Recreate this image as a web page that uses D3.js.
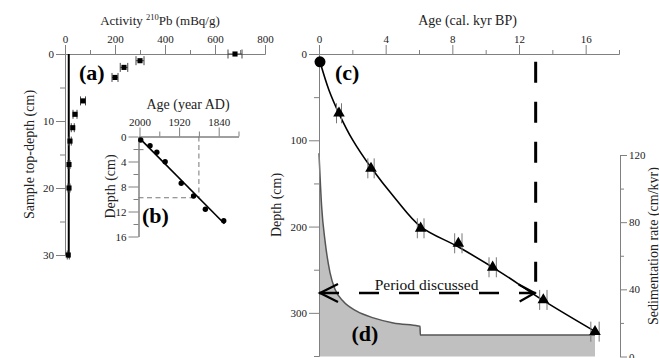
<!DOCTYPE html>
<html>
<head>
<meta charset="utf-8">
<script src="https://cdn.jsdelivr.net/npm/d3@7"></script>
<style>
    body { margin: 0; background: #fff; }
    svg { display: block; font-family: 'Liberation Serif', 'Times New Roman', serif; }
</style>
</head>
<body>
<svg id="chart" width="659" height="358"></svg>
<script>
// (a) 210Pb activity profile
const activity = [680, 300, 236, 200, 72, 40, 31, 20, 16, 16, 13]
const activityDepth = [0, 1, 2, 3.5, 7, 9, 11, 13, 16.5, 20, 30]
const activityError = [28, 16, 15, 12, 10, 8, 6, 5, 4, 4, 4]
const supportedActivity = 15
const activityTicks = [0, 200, 400, 600, 800]
const activityMinorTicks = [100, 300, 500, 700]
const topDepthTicks = [0, 10, 20, 30]
const topDepthMinorTicks = [5, 15, 25]

// (b) 210Pb ages, inset
const pbYears = [1997.5, 1978.7, 1965, 1948.2, 1915.7, 1890.8, 1867, 1829.8]
const pbDepth = [0.56, 1.47, 2.53, 4.03, 7.49, 9.52, 11.65, 13.47]
const fitYears = [1997.5, 1828.4]
const fitDepth = [0.45, 13.96]
const refYear = 1880
const refDepth = 9.8
const markYear = 1986
const markDepth = 2.1
const yearTicks = [2000, 1920, 1840]
const yearMinorTicks = [1960, 1880, 1800]
const insetDepthTicks = [0, 4, 8, 12, 16]
const insetDepthMinorTicks = [2, 6, 10, 14]

// (c) age-depth model
const surfaceAge = [0.06]
const surfaceDepth = [9]
const c14Age = [1.2, 3.12, 6.1, 8.36, 10.42, 13.46, 16.56]
const c14Depth = [68.7, 132.5, 202, 219.4, 247.2, 285, 321.8]
const c14Error = [0.15, 0.19, 0.2, 0.22, 0.22, 0.22, 0.25]
const modelAge = [0.06, 0.6, 1.2, 2.0, 3.1, 4.6, 6.1, 8.4, 10.9, 13.4, 16.6]
const modelDepth = [9, 42, 69, 99, 131, 168, 200, 224, 253, 285, 322]
const periodEndAge = 13
const periodDepth = 277
const periodLineDepth = [9, 264]
const ageTicks = [0, 4, 8, 12, 16]
const ageMinorTicks = [2, 6, 10, 14, 18]
const depthTicks = [0, 100, 200, 300]
const depthMinorTicks = [50, 150, 250, 350]

// (d) sedimentation rate
const rateAge = [0, 0.16, 0.36, 0.66, 0.96, 1.44, 2.26, 3.26, 4.46, 5.94, 6.06, 6.08, 16.56]
const rate = [121, 89, 69, 50, 40, 33, 27, 23, 20, 18.2, 18, 12.8, 12.8]
const rateTicks = [0, 40, 80, 120]
const rateMinorTicks = [20, 60, 100]

const svg = d3.select('#chart')
const axisColor = '#808080'
const textColor = '#222'
const font = "'Liberation Serif', 'Times New Roman', serif"

const xA = d3.scaleLinear().domain([0, 800]).range([65, 265])
const yA = d3.scaleLinear().domain([0, 30]).range([54, 255])
const xB = d3.scaleLinear().domain([2002, 1800]).range([138.5, 238.5])
const yB = d3.scaleLinear().domain([0, 16]).range([136.5, 236.5])
const xC = d3.scaleLinear().domain([0, 18]).range([319, 619])
const yC = d3.scaleLinear().domain([0, 350]).range([54, 356])
const yD = d3.scaleLinear().domain([0, 120]).range([356.5, 155])

function addAxis(axisFn, scale, majors, minors, transform, majorSize, minorSize, fmt) {
    const minor = svg.append('g').attr('transform', transform)
        .call(axisFn(scale).tickValues(minors).tickSize(minorSize).tickFormat('').tickSizeOuter(0))
    const major = svg.append('g').attr('transform', transform)
        .call(axisFn(scale).tickValues(majors).tickSize(majorSize).tickPadding(2).tickSizeOuter(0)
            .tickFormat(fmt || d3.format('d')))
    ;[minor, major].forEach(g => {
        g.attr('font-family', font).attr('font-size', 11)
        g.select('.domain').attr('stroke', axisColor)
        g.selectAll('.tick line').attr('stroke', axisColor)
        g.selectAll('.tick text').attr('fill', textColor)
    })
}

function addText(txt, x, y, opts = {}) {
    const t = svg.append('text')
        .attr('font-family', font)
        .attr('font-size', opts.size || 14)
        .attr('font-weight', opts.bold ? 'bold' : 'normal')
        .attr('fill', opts.color || textColor)
        .attr('text-anchor', opts.anchor || 'middle')
        .attr('transform', `translate(${x},${y})` + (opts.rotate ? ' rotate(-90)' : ''))
        .text(txt)
    return t
}

function errorBars(g, xs, ys, errs, xScale, yScale, cap, color) {
    xs.forEach((v, i) => {
        const y = yScale(ys[i])
        const x0 = xScale(v - errs[i])
        const x1 = xScale(v + errs[i])
        g.append('line').attr('x1', x0).attr('x2', x1).attr('y1', y).attr('y2', y)
            .attr('stroke', color).attr('stroke-width', 1)
        ;[x0, x1].forEach(x => {
            g.append('line').attr('x1', x).attr('x2', x).attr('y1', y - cap).attr('y2', y + cap)
                .attr('stroke', color).attr('stroke-width', 1)
        })
    })
}

// ---- (d) sedimentation rate, drawn first as background ----
const rateData = rateAge.map((a, i) => ({ age: a, rate: rate[i] }))
svg.append('path')
    .datum(rateData)
    .attr('d', d3.area().x(d => xC(d.age)).y0(yD(0)).y1(d => yD(d.rate)).curve(d3.curveMonotoneX))
    .attr('fill', '#c0c0c0')
svg.append('path')
    .datum(rateData)
    .attr('d', d3.line().x(d => xC(d.age)).y(d => yD(d.rate)).curve(d3.curveMonotoneX))
    .attr('fill', 'none').attr('stroke', '#555').attr('stroke-width', 1.5)

// ---- axes ----
addAxis(d3.axisTop, xA, activityTicks, activityMinorTicks, 'translate(0,54)', 9, 4)
addAxis(d3.axisLeft, yA, topDepthTicks, topDepthMinorTicks, 'translate(65,0)', 9, 5)
addAxis(d3.axisTop, xB, yearTicks, yearMinorTicks, `translate(0,${yB(0)})`, 9, 5)
addAxis(d3.axisLeft, yB, insetDepthTicks, insetDepthMinorTicks, `translate(${xB(2002)},0)`, 10, 5)
addAxis(d3.axisTop, xC, ageTicks, ageMinorTicks, 'translate(0,54)', 9, 4)
addAxis(d3.axisLeft, yC, depthTicks, depthMinorTicks, 'translate(319,0)', 10, 5)
addAxis(d3.axisRight, yD, rateTicks, rateMinorTicks, 'translate(620,0)', 7, 4)

// ---- titles and axis labels ----
const actTitle = addText('Activity ', 160, 24.5, { size: 13 })
actTitle.append('tspan').attr('font-size', 8.5).attr('dy', -4.5).text('210')
actTitle.append('tspan').attr('dy', 4.5).text('Pb (mBq/g)')
addText('Sample top-depth (cm)', 33.5, yA(15), { rotate: true })
addText('Age (year AD)', 188, 109)
addText('Depth (cm)', 115, yB(8), { rotate: true })
addText('Age (cal. kyr BP)', 467.5, 24.5)
addText('Depth (cm)', 280.5, 205, { rotate: true })
addText('Sedimentation rate (cm/kyr)', 657.5, 246, { rotate: true })

addText('(a)', 79, 79.5, { size: 22, bold: true, anchor: 'start', color: '#000' })
addText('(b)', 142, 223, { size: 22, bold: true, anchor: 'start', color: '#000' })
addText('(c)', 335, 80, { size: 22, bold: true, anchor: 'start', color: '#000' })
addText('(d)', 351.5, 340.5, { size: 22, bold: true, anchor: 'start', color: '#000' })

// ---- (a) activity profile ----
const gA = svg.append('g')
gA.append('line')
    .attr('x1', xA(supportedActivity)).attr('x2', xA(supportedActivity))
    .attr('y1', yA(0)).attr('y2', yA(30.4))
    .attr('stroke', '#000').attr('stroke-width', 2)
errorBars(gA, activity, activityDepth, activityError, xA, yA, 4.5, '#444')
gA.selectAll('path.sq')
    .data(activity)
    .join('path')
    .attr('class', 'sq')
    .attr('transform', (d, i) => `translate(${xA(d)},${yA(activityDepth[i])})`)
    .attr('d', d3.symbol(d3.symbolSquare, 26))
    .attr('fill', '#000')

// ---- (b) inset ----
const gB = svg.append('g')
const dash = '5,3.5'
gB.append('line')
    .attr('x1', xB(refYear)).attr('x2', xB(refYear))
    .attr('y1', yB(0)).attr('y2', yB(refDepth))
    .attr('stroke', '#777').attr('stroke-dasharray', dash)
gB.append('line')
    .attr('x1', xB(2002)).attr('x2', xB(refYear))
    .attr('y1', yB(refDepth)).attr('y2', yB(refDepth))
    .attr('stroke', '#777').attr('stroke-dasharray', dash)
gB.append('line')
    .attr('x1', xB(2002)).attr('x2', xB(markYear))
    .attr('y1', yB(markDepth)).attr('y2', yB(markDepth))
    .attr('stroke', '#777').attr('stroke-dasharray', dash)
gB.append('line')
    .attr('x1', xB(fitYears[0])).attr('x2', xB(fitYears[1]))
    .attr('y1', yB(fitDepth[0])).attr('y2', yB(fitDepth[1]))
    .attr('stroke', '#000').attr('stroke-width', 1.6)
gB.selectAll('circle')
    .data(pbYears)
    .join('circle')
    .attr('cx', d => xB(d))
    .attr('cy', (d, i) => yB(pbDepth[i]))
    .attr('r', 2.7)
    .attr('fill', '#000')

// ---- (c) age-depth model ----
const gC = svg.append('g')
// period discussed
gC.append('line')
    .attr('x1', xC(periodEndAge)).attr('x2', xC(periodEndAge))
    .attr('y1', yC(periodLineDepth[0])).attr('y2', yC(periodLineDepth[1]))
    .attr('stroke', '#000').attr('stroke-width', 3).attr('stroke-dasharray', '21,19')
const py = yC(periodDepth)
gC.append('line')
    .attr('x1', xC(0)).attr('x2', xC(periodEndAge))
    .attr('y1', py).attr('y2', py)
    .attr('stroke', '#000').attr('stroke-width', 2.5).attr('stroke-dasharray', '20,20')
const arrow = d3.line()
gC.append('path')
    .attr('d', arrow([[xC(0) + 19, py - 9], [xC(0) + 1, py], [xC(0) + 19, py + 9]]))
    .attr('fill', 'none').attr('stroke', '#000').attr('stroke-width', 2.2)
gC.append('path')
    .attr('d', arrow([[xC(periodEndAge) - 17, py - 8.5], [xC(periodEndAge) - 1, py], [xC(periodEndAge) - 16, py + 8.5]]))
    .attr('fill', 'none').attr('stroke', '#000').attr('stroke-width', 2.2)
addText('Period discussed', 426.5, py - 3.5, { size: 15.5, color: '#111' })

// model curve
const modelData = modelAge.map((a, i) => [xC(a), yC(modelDepth[i])])
gC.append('path')
    .attr('d', d3.line().curve(d3.curveCatmullRom)(modelData))
    .attr('fill', 'none').attr('stroke', '#000').attr('stroke-width', 1.6)

errorBars(gC, c14Age, c14Depth, c14Error, xC, yC, 10, '#777')
gC.selectAll('path.tri')
    .data(c14Age)
    .join('path')
    .attr('class', 'tri')
    .attr('transform', (d, i) => `translate(${xC(d)},${yC(c14Depth[i])})`)
    .attr('d', d3.symbol(d3.symbolTriangle, 58))
    .attr('fill', '#000')
gC.selectAll('circle.surf')
    .data(surfaceAge)
    .join('circle')
    .attr('class', 'surf')
    .attr('cx', d => xC(d))
    .attr('cy', (d, i) => yC(surfaceDepth[i]))
    .attr('r', 5.5)
    .attr('fill', '#000')
</script>
</body>
</html>
